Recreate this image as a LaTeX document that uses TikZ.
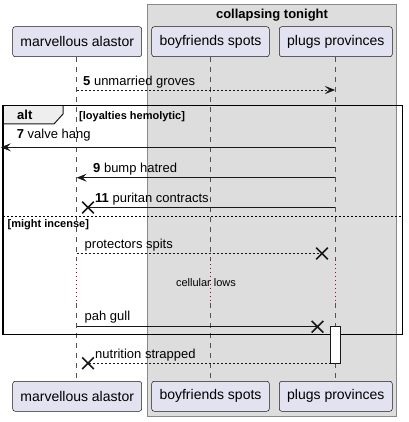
\documentclass[tikz,border=0pt]{standalone}
\usepackage{fontspec}
\setmainfont{Liberation Sans}
\usetikzlibrary{arrows.meta,shapes.misc}
\definecolor{partfill}{HTML}{E2E2F0}
\definecolor{partline}{HTML}{181818}
\definecolor{grpfill}{HTML}{DDDDDD}
\definecolor{grpline}{HTML}{888888}
\definecolor{tabfill}{HTML}{EEEEEE}
\definecolor{delayred}{HTML}{A80036}
\begin{document}
\begin{tikzpicture}[x=1pt,y=-1pt,
 part/.style={draw=partline, fill=partfill, rounded corners=2.5pt, line width=0.5pt, minimum height=30pt, inner sep=0pt, font=\fontsize{14}{16}\selectfont},
 life/.style={draw=partline!75, line width=0.6pt, dash pattern=on 5pt off 5pt},
 dly/.style={draw=delayred, line width=0.6pt, dash pattern=on 1pt off 3pt},
 msg/.style={draw=partline, line width=0.8pt},
 ret/.style={msg, dash pattern=on 2pt off 2pt},
 tip/.style={-{Stealth[length=10pt,width=8pt,inset=4pt]}},
 lbl/.style={anchor=base west, inner sep=0pt, font=\fontsize{13}{15}\selectfont},
 grd/.style={anchor=base west, inner sep=0pt, font=\fontsize{11}{13}\selectfont\bfseries},
 xmark/.style={cross out, draw=partline, line width=1.6pt, minimum size=10pt, inner sep=0pt}
]
\useasboundingbox (0,0) rectangle (408,422);
% group box
\draw[fill=grpfill, draw=grpline, line width=1pt] (147.7,5) rectangle (396.7,416.7);
\node[anchor=base, inner sep=0pt, font=\fontsize{13}{15}\selectfont\bfseries] (gt) at (272,18.7) {collapsing tonight};
% lifelines
\foreach \x/\n in {76.7/a,210.3/b,335/c}{
  \coordinate (\n1) at (\x,57);
  \coordinate (\n2) at (\x,260);
  \coordinate (\n3) at (\x,303);
  \coordinate (\n4) at (\x,380);
  \draw[life] (\n1) -- (\n2);
  \draw[dly] (\n2) -- (\n3);
  \draw[life] (\n3) -- (\n4);
}
% participants
\node[part, minimum width=129pt] (pa) at (77.2,41.7) {marvellous alastor};
\node[part, minimum width=117.6pt] (pb) at (210.5,41.7) {boyfriends spots};
\node[part, minimum width=113pt] (pc) at (335.8,41.7) {plugs provinces};
\node[part, minimum width=129pt] (pa2) at (77.2,396.3) {marvellous alastor};
\node[part, minimum width=117.6pt] (pb2) at (210.5,396.3) {boyfriends spots};
\node[part, minimum width=113pt] (pc2) at (335.8,396.3) {plugs provinces};
% message 5
\coordinate (m5a) at (76.7,90);
\coordinate (m5c) at (335,90);
\draw[ret, tip] (m5a) -- (m5c);
\node[lbl] (l5) at (83,85.5) {\textbf{5} unmarried groves};
% alt frame
\fill[tabfill] (3,105.5) -- (63,105.5) -- (63,114) -- (54,124) -- (3,124) -- cycle;
\draw[partline, line width=1pt] (63,105.5) -- (63,114) -- (54,124) -- (3,124);
\draw[black, line width=1.5pt] (3,105.5) rectangle (402.7,334.3);
\node[anchor=base west, inner sep=0pt, font=\fontsize{13}{15}\selectfont\bfseries] (alt) at (17,120) {alt};
\node[grd] (g1) at (79,119.5) {[loyalties hemolytic]};
% message 7
\coordinate (m7c) at (335,147.3);
\coordinate (m7e) at (0.8,147.3);
\draw[msg, tip] (m7c) -- (m7e);
\node[lbl] (l7) at (16.7,139) {\textbf{7} valve hang};
% message 9
\coordinate (m9c) at (335,177.7);
\coordinate (m9a) at (76.7,177.7);
\draw[msg, tip] (m9c) -- (m9a);
\node[lbl] (l9) at (93,172.7) {\textbf{9} bump hatred};
% message 11
\coordinate (m11c) at (335,207.5);
\node[xmark] (x11) at (88,207.5) {};
\draw[msg] (m11c) -- (x11.center);
\node[lbl] (l11) at (95,202.7) {\textbf{11} puritan contracts};
% separator
\coordinate (s1) at (3,216.7);
\coordinate (s2) at (402.7,216.7);
\draw[black, line width=0.8pt, dash pattern=on 2pt off 2pt] (s1) -- (s2);
\node[grd] (g2) at (7.5,227.7) {[might incense]};
% protectors spits
\coordinate (mpa) at (76.7,253.5);
\node[xmark] (xp) at (322,253.5) {};
\draw[ret] (mpa) -- (xp.center);
\node[lbl] (lp) at (84.5,248.3) {protectors spits};
% delay
\node[anchor=base, inner sep=0pt, font=\fontsize{11}{13}\selectfont] (dl) at (206,286.7) {cellular lows};
% pah gull
\coordinate (mga) at (76.7,326.7);
\node[xmark] (xg) at (317.5,326.7) {};
\draw[msg] (mga) -- (xg.center);
\node[lbl] (lg) at (84.5,320.7) {pah gull};
% activation
\draw[partline, fill=white, line width=0.8pt] (330.7,326.7) rectangle (340.3,363.3);
% nutrition strapped
\coordinate (mnc) at (330.7,363.3);
\node[xmark] (xn) at (88,363.3) {};
\draw[ret] (mnc) -- (xn.center);
\node[lbl] (ln) at (95,358.3) {nutrition strapped};
\end{tikzpicture}
\end{document}
